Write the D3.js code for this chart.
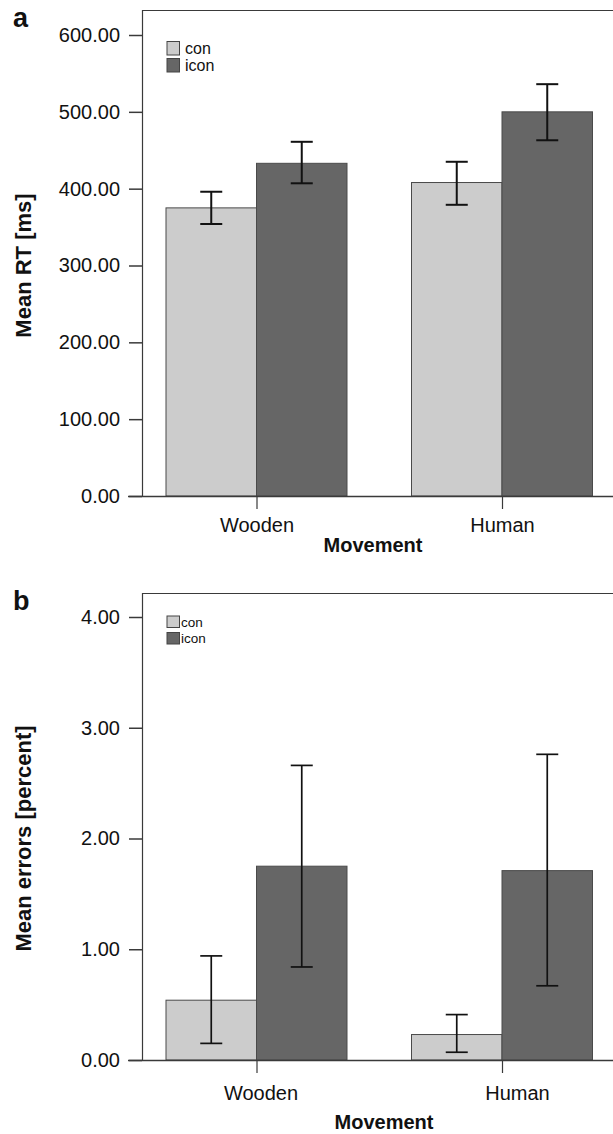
<!DOCTYPE html>
<html>
<head>
<meta charset="UTF-8">
<script src="https://d3js.org/d3.v7.min.js"></script>
<style>
  body { margin: 0; background: #fff; }
  text { font-family: "Liberation Sans", Arial, sans-serif; }
</style>
</head>
<body>
<svg id="chart" width="613" height="1134"></svg>
<script>
// data
const categories = ["Wooden", "Human"];
const series = ["con", "icon"];
const seriesColors = ["#cccccc", "#666666"];

// panel a: mean RT [ms]
const rtCon = [375, 408];
const rtIcon = [433, 500];
const rtConLow = [354, 379];
const rtConHigh = [396, 435];
const rtIconLow = [407, 463];
const rtIconHigh = [461, 536];
const rtTicks = [0, 100, 200, 300, 400, 500, 600];

// panel b: mean errors [percent]
const errCon = [0.54, 0.23];
const errIcon = [1.75, 1.71];
const errConLow = [0.15, 0.07];
const errConHigh = [0.94, 0.41];
const errIconLow = [0.84, 0.67];
const errIconHigh = [2.66, 2.76];
const errTicks = [0, 1, 2, 3, 4];

const svg = d3.select("#chart");
const W = 613;

function rows(con, icon, conLo, conHi, iconLo, iconHi) {
  const out = [];
  categories.forEach((c, i) => {
    out.push({ cat: c, s: "con", v: con[i], lo: conLo[i], hi: conHi[i] });
    out.push({ cat: c, s: "icon", v: icon[i], lo: iconLo[i], hi: iconHi[i] });
  });
  return out;
}

function drawPanel(p) {
  const g = svg.append("g");
  const left = 142;

  const y = d3.scaleLinear()
    .domain([0, p.ticks[p.ticks.length - 1]])
    .range([p.base, p.topTick]);

  const x = d3.scalePoint()
    .domain(categories)
    .range([256.5, 502]);

  const xs = d3.scaleBand()
    .domain(series)
    .range([-90.5, 90.5]);

  const color = d3.scaleOrdinal().domain(series).range(seriesColors);

  // frame
  g.append("path")
    .attr("d", `M${left + 0.5},${p.base}V${p.frameTop + 0.5}H${W}`)
    .attr("fill", "none")
    .attr("stroke", "#3a3a3a")
    .attr("stroke-width", 1.2);

  // bars
  g.selectAll("rect.bar")
    .data(p.data)
    .join("rect")
    .attr("class", "bar")
    .attr("x", d => x(d.cat) + xs(d.s))
    .attr("width", xs.bandwidth())
    .attr("y", d => y(d.v))
    .attr("height", d => y(0) - y(d.v))
    .attr("fill", d => color(d.s))
    .attr("stroke", "#4a4a4a")
    .attr("stroke-width", 1);

  // error bars
  const eb = g.selectAll("g.err")
    .data(p.data)
    .join("g")
    .attr("class", "err")
    .attr("stroke", "#111")
    .attr("stroke-width", p.errWidth);
  const cx = d => x(d.cat) + xs(d.s) + xs.bandwidth() / 2;
  eb.append("line")
    .attr("x1", cx).attr("x2", cx)
    .attr("y1", d => y(d.lo)).attr("y2", d => y(d.hi));
  eb.append("line")
    .attr("x1", d => cx(d) - 11).attr("x2", d => cx(d) + 11)
    .attr("y1", d => y(d.hi)).attr("y2", d => y(d.hi));
  eb.append("line")
    .attr("x1", d => cx(d) - 11).attr("x2", d => cx(d) + 11)
    .attr("y1", d => y(d.lo)).attr("y2", d => y(d.lo));

  // y axis
  const yAxis = d3.axisLeft(y)
    .tickValues(p.ticks)
    .tickFormat(d3.format(".2f"))
    .tickSize(13)
    .tickPadding(9);
  const ya = g.append("g")
    .attr("transform", `translate(${left},0)`)
    .call(yAxis);
  ya.select(".domain").remove();
  ya.selectAll(".tick line").attr("stroke", "#3a3a3a").attr("stroke-width", 1.5);
  ya.selectAll(".tick text")
    .attr("font-size", 20)
    .attr("fill", "#111")
    .style("font-family", "'Liberation Sans', Arial, sans-serif");

  // x axis
  const xAxis = d3.axisBottom(x)
    .tickSize(13)
    .tickPadding(0)
    .tickSizeOuter(0);
  const xa = g.append("g")
    .attr("transform", `translate(0,${p.base})`)
    .call(xAxis);
  xa.select(".domain")
    .attr("d", `M128,0.5H${W}`)
    .attr("stroke", "#3a3a3a")
    .attr("stroke-width", 1.5);
  xa.selectAll(".tick line").attr("stroke", "#3a3a3a").attr("stroke-width", 1.2);
  xa.selectAll(".tick text")
    .attr("font-size", 20)
    .attr("fill", "#111")
    .attr("y", p.catLabelY)
    .attr("dy", 0)
    .attr("dx", (d, i) => p.catShift[i])
    .style("font-family", "'Liberation Sans', Arial, sans-serif");

  // x title
  g.append("text")
    .attr("x", p.xTitleX)
    .attr("y", p.base + p.xTitleY)
    .attr("text-anchor", "middle")
    .attr("font-size", 20)
    .attr("font-weight", "bold")
    .attr("fill", "#111")
    .text("Movement");

  // y title
  g.append("text")
    .attr("transform", `translate(31,${(p.base + p.topTick) / 2}) rotate(-90)`)
    .attr("text-anchor", "middle")
    .attr("font-size", 22)
    .attr("font-weight", "bold")
    .attr("fill", "#111")
    .text(p.yTitle);

  // panel letter
  g.append("text")
    .attr("x", 13)
    .attr("y", p.letterY)
    .attr("font-size", 27)
    .attr("font-weight", "bold")
    .attr("fill", "#111")
    .text(p.letter);

  // legend
  const lg = g.selectAll("g.leg")
    .data(series)
    .join("g")
    .attr("class", "leg")
    .attr("transform", (d, i) => `translate(167,${p.legY + i * p.legStep})`);
  lg.append("rect")
    .attr("width", 12.5)
    .attr("height", p.legBox)
    .attr("fill", d => color(d))
    .attr("stroke", "#444")
    .attr("stroke-width", 1);
  lg.append("text")
    .attr("x", p.legTextX)
    .attr("y", p.legBox - 1)
    .attr("font-size", p.legFont)
    .attr("fill", "#111")
    .text(d => d);
}

drawPanel({
  data: rows(rtCon, rtIcon, rtConLow, rtConHigh, rtIconLow, rtIconHigh),
  ticks: rtTicks,
  base: 496,
  topTick: 35,
  frameTop: 10,
  errWidth: 2,
  catLabelY: 36,
  catShift: [0, 0],
  xTitleX: 373,
  xTitleY: 56,
  yTitle: "Mean RT [ms]",
  letter: "a",
  letterY: 27,
  legY: 41.5,
  legStep: 17,
  legBox: 13.5,
  legFont: 16,
  legTextX: 18
});

drawPanel({
  data: rows(errCon, errIcon, errConLow, errConHigh, errIconLow, errIconHigh),
  ticks: errTicks,
  base: 1060,
  topTick: 617,
  frameTop: 593,
  errWidth: 1.7,
  catLabelY: 40,
  catShift: [4, 15],
  xTitleX: 384,
  xTitleY: 69,
  yTitle: "Mean errors [percent]",
  letter: "b",
  letterY: 610,
  legY: 616,
  legStep: 16.5,
  legBox: 11.5,
  legFont: 13.5,
  legTextX: 14
});
</script>
</body>
</html>
